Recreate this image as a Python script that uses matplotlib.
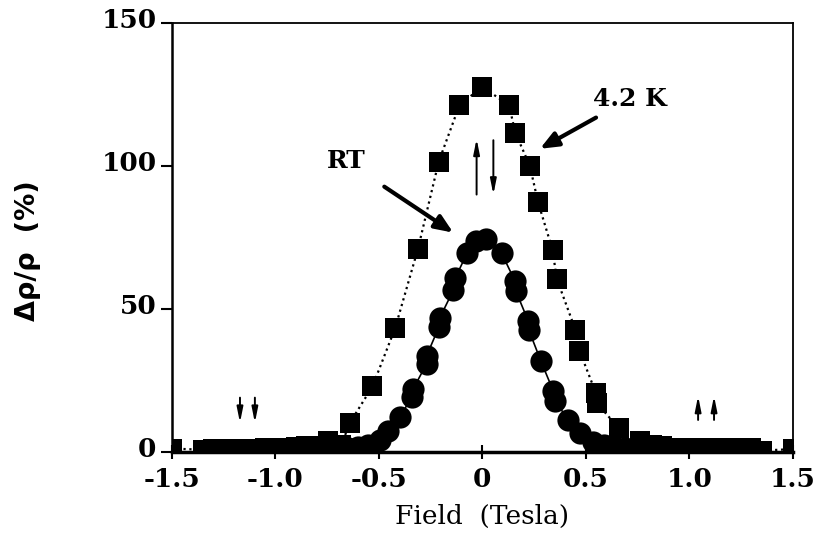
import matplotlib
matplotlib.use('Agg')
import matplotlib.pyplot as plt
import matplotlib.transforms as mtransforms

plt.rcParams['axes.unicode_minus'] = False

# 4.2 K data (squares, dotted line)
field_4k = [-1.50, -1.35, -1.30, -1.25, -1.20, -1.15, -1.10, -1.05, -1.00, -0.95,
            -0.90, -0.85, -0.80, -0.745, -0.68, -0.64, -0.53, -0.42, -0.31, -0.21,
            -0.11, 0.00, 0.13, 0.16, 0.23, 0.27, 0.34, 0.36, 0.45, 0.47,
            0.55, 0.555, 0.66, 0.76, 0.82, 0.87, 0.93, 0.98, 1.03, 1.08,
            1.13, 1.20, 1.25, 1.30, 1.35, 1.50]
mr_4k = [1.2, 0.8, 1.2, 1.2, 1.2, 1.0, 1.2, 1.3, 1.4, 1.5,
         1.7, 2.0, 2.0, 4.0, 2.5, 10.1, 22.9, 43.4, 71.1, 101.5,
         121.2, 127.7, 121.2, 111.6, 100.1, 87.3, 70.6, 60.6, 42.8, 35.4,
         20.5, 17.0, 8.3, 4.0, 2.3, 2.0, 1.5, 1.5, 1.5, 1.5,
         1.3, 1.3, 1.3, 1.3, 0.5, 1.0]

# room temperature data (circles, solid line)
field_rt = [-0.80, -0.75, -0.70, -0.65, -0.60, -0.55, -0.494, -0.454, -0.397, -0.341,
            -0.333, -0.268, -0.268, -0.209, -0.204, -0.140, -0.131, -0.073, -0.030, 0.018,
            0.094, 0.158, 0.163, 0.223, 0.226, 0.284, 0.343, 0.352, 0.416, 0.472,
            0.537, 0.59, 0.64, 0.69, 0.74, 0.80]
mr_rt = [1.0, 1.0, 1.2, 1.5, 1.8, 2.5, 4.2, 7.4, 12.1, 19.3,
         22.1, 30.9, 33.7, 43.7, 47.0, 56.5, 60.7, 69.5, 73.7, 74.4,
         69.5, 59.8, 56.2, 45.7, 42.5, 31.7, 21.4, 17.9, 11.2, 6.6,
         3.6, 2.5, 1.8, 1.3, 1.0, 1.0]

xticks = [-1.5, -1.0, -0.5, 0, 0.5, 1.0, 1.5]
xticklabels = ['-1.5', '-1.0', '-0.5', '0', '0.5', '1.0', '1.5']
yticks = [0, 50, 100, 150]

serif = 'DejaVu Serif'

fig = plt.figure(figsize=(8.19, 5.49), dpi=100)
ax = fig.add_axes([0.2096, 0.1767, 0.7583, 0.7815])

ax.plot(field_4k, mr_4k, color='black', ls=':', lw=1.6,
        marker='s', markersize=13.8, markeredgewidth=0)
ax.plot(field_rt, mr_rt, color='black', ls='-', lw=1.2,
        marker='o', markersize=16, markeredgewidth=0)

ax.set_xlim(-1.5, 1.5)
ax.set_ylim(0, 150)
ax.set_xticks(xticks)
ax.set_xticklabels(xticklabels)
ax.set_yticks(yticks)

for lab in ax.get_xticklabels() + ax.get_yticklabels():
    lab.set_fontfamily(serif)
    lab.set_fontweight('bold')
    lab.set_fontsize(19)

ax.tick_params(axis='x', direction='inout', length=10, width=1.5, pad=6)
ax.tick_params(axis='y', direction='out', length=8, width=1.5, pad=3)

# y tick labels sit a little above their ticks in the original
shift_up = mtransforms.ScaledTranslation(0, 5 / 100, fig.dpi_scale_trans)
for lab in ax.get_yticklabels():
    lab.set_transform(lab.get_transform() + shift_up)

ax.spines['bottom'].set_linewidth(2.5)
ax.spines['left'].set_linewidth(1.8)
ax.spines['top'].set_linewidth(1.3)
ax.spines['right'].set_linewidth(1.3)

ax.set_xlabel('Field  (Tesla)', fontfamily=serif, fontsize=19)
ax.xaxis.set_label_coords(0.5, -0.12)
ax.set_ylabel('\u0394\u03c1/\u03c1  (%)', fontfamily='DejaVu Sans',
              fontweight='bold', fontsize=19.5)
ax.yaxis.set_label_coords(-0.21, 0.47)

# curve labels with arrows
ax.annotate('4.2 K', xy=(0.279, 106), xytext=(0.535, 123.5),
            fontfamily=serif, fontweight='bold', fontsize=18, va='center',
            arrowprops=dict(arrowstyle='-|>,head_length=0.6,head_width=0.25',
                            color='black', lw=3, shrinkA=6, shrinkB=0))
ax.annotate('RT', xy=(-0.14, 76.7), xytext=(-0.658, 101.7),
            fontfamily=serif, fontweight='bold', fontsize=18,
            ha='center', va='center',
            arrowprops=dict(arrowstyle='-|>,head_length=0.6,head_width=0.25',
                            color='black', lw=3, shrinkA=14, shrinkB=0))

# magnetisation direction arrows
small = dict(arrowstyle='-|>,head_length=0.9,head_width=0.18',
             color='black', lw=1.4, shrinkA=0, shrinkB=0)
pairs = [
    ((-0.027, 109.5), (-0.027, 90.0)),
    ((0.054, 90.0), (0.054, 109.0)),
    ((-1.17, 10.2), (-1.17, 19.0)),
    ((-1.098, 10.2), (-1.098, 19.0)),
    ((1.043, 19.6), (1.043, 11.2)),
    ((1.12, 19.6), (1.12, 11.2)),
]
for tip, tail in pairs:
    ax.annotate('', xy=tip, xytext=tail, arrowprops=small)

fig.savefig('out.png', dpi=100)
